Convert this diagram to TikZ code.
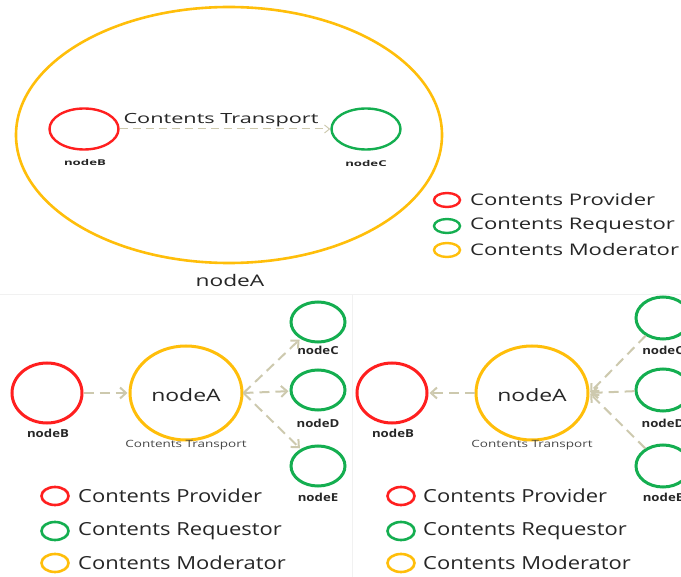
\documentclass[tikz,border=0pt]{standalone}
\usepackage{fontspec}
\setmainfont{Open Sans}
% widened faces for the labels
\newfontfamily\legendface[FakeStretch=1.22]{Open Sans}
\newfontfamily\topface[FakeStretch=1.42]{Open Sans}
\newfontfamily\toplegface[FakeStretch=1.38]{Open Sans}
\newfontfamily\toptransface[FakeStretch=1.55]{Open Sans}
\newfontfamily\midface[FakeStretch=1.35]{Open Sans}
\newfontfamily\labelface[FakeStretch=1.2]{Open Sans Bold}
\newfontfamily\tinyface[FakeStretch=1.65]{Open Sans Bold}
\usetikzlibrary{shapes.geometric,arrows.meta}

\definecolor{provred}{HTML}{FF1F1F}
\definecolor{reqgreen}{HTML}{14AE50}
\definecolor{modyellow}{HTML}{FFBE0A}
\definecolor{flowtan}{HTML}{CDC9AE}
\definecolor{inkgray}{HTML}{262626}
\definecolor{panelline}{HTML}{F1F1F1}

\tikzset{
  ring/.style={ellipse, draw, inner sep=0pt},
  provider/.style={ring, draw=provred, line width=3pt},
  requestor/.style={ring, draw=reqgreen, line width=3pt},
  moderator/.style={ring, draw=modyellow, line width=3pt},
  smallname/.style={font=\labelface\fontsize{11}{11}\selectfont, text=inkgray},
  tinyname/.style={font=\tinyface\fontsize{8}{8}\selectfont, text=inkgray},
  flow/.style={draw=flowtan, line width=2pt, dash pattern=on 10pt off 6pt,
    -{Straight Barb[length=6pt,width=11pt,line width=2pt]}, shorten >=1pt},
  thinflow/.style={draw=flowtan, line width=1pt, dash pattern=on 8pt off 5pt,
    -{Straight Barb[length=5pt,width=8pt,line width=1pt]}},
  legring/.style={ring, line width=2.6pt, minimum width=27pt, minimum height=18pt},
  topring/.style={ring, line width=2.4pt, minimum width=26pt, minimum height=14pt},
  legtext/.style={anchor=west, inner sep=0pt, text=inkgray, font=\legendface\fontsize{18}{18}\selectfont},
  toplegtext/.style={anchor=west, inner sep=0pt, text=inkgray, font=\toplegface\fontsize{16}{16}\selectfont},
  transtext/.style={font=\midface\fontsize{10}{10}\selectfont, text=inkgray!85},
  centretext/.style={font=\midface\fontsize{17}{17}\selectfont, text=inkgray},
}

\begin{document}
\begin{tikzpicture}[x=1pt,y=-1pt]
\useasboundingbox (0,0) rectangle (681,577);

% faint panel borders
\draw[panelline, line width=1pt] (0,295) -- (681,295);
\draw[panelline, line width=1pt] (352,295) -- (352,577);

% ---------------- upper panel: moderator enclosing the transport ----------------
\node[moderator, line width=2.6pt, minimum width=426pt, minimum height=256pt] (tA) at (229,135) {};
\node[provider, line width=2.4pt, minimum width=69pt, minimum height=41pt] (tB) at (84,129) {};
\node[requestor, line width=2.4pt, minimum width=69pt, minimum height=41pt] (tC) at (366,129) {};
\node[tinyname] (tBl) at (85,163) {nodeB};
\node[tinyname] (tCl) at (366,164) {nodeC};
\draw[thinflow] (tB) -- (tC);
\node[font=\toptransface\fontsize{14}{14}\selectfont, text=inkgray] (tT) at (221,120) {Contents Transport};
\node[font=\topface\fontsize{16}{16}\selectfont, text=inkgray] (tAl) at (230,281) {nodeA};

% upper legend
\node[topring, draw=provred] (tk1) at (447,200) {};
\node[topring, draw=reqgreen] (tk2) at (447,226) {};
\node[topring, draw=modyellow] (tk3) at (447,250) {};
\node[toplegtext] (tt1) at (470,200) {Contents Provider};
\node[toplegtext] (tt2) at (470,226) {Contents Requestor};
\node[toplegtext] (tt3) at (470,250) {Contents Moderator};

% ---------------- lower left panel: moderator fans out ----------------
\node[provider, minimum width=70pt, minimum height=60pt] (lB) at (47,393) {};
\node[moderator, minimum width=112pt, minimum height=94pt] (lA) at (186,393) {};
\node[centretext] (lAl) at (186,395) {nodeA};
\node[requestor, minimum width=54pt, minimum height=40pt] (lC) at (318,322) {};
\node[requestor, minimum width=54pt, minimum height=40pt] (lD) at (318,390) {};
\node[requestor, minimum width=54pt, minimum height=40pt] (lE) at (318,466) {};
\node[smallname] (lBl) at (48,433) {nodeB};
\node[smallname] (lCl) at (318,350) {nodeC};
\node[smallname] (lDl) at (318,423) {nodeD};
\node[smallname] (lEl) at (318,497) {nodeE};
\node[transtext] (lT) at (186,445) {Contents Transport};
\draw[flow] (lB) -- (lA);
\draw[flow] (lA.east) -- (lC);
\draw[flow] (lA.east) -- (lD);
\draw[flow] (lA.east) -- (lE);

% lower left legend
\node[legring, draw=provred] (lk1) at (55,496) {};
\node[legring, draw=reqgreen] (lk2) at (55,531) {};
\node[legring, draw=modyellow] (lk3) at (55,563) {};
\node[legtext] (lt1) at (78,496) {Contents Provider};
\node[legtext] (lt2) at (78,531) {Contents Requestor};
\node[legtext] (lt3) at (78,563) {Contents Moderator};

% ---------------- lower right panel: moderator gathers in ----------------
\node[provider, minimum width=70pt, minimum height=60pt] (rB) at (392,393) {};
\node[moderator, minimum width=112pt, minimum height=94pt] (rA) at (532,393) {};
\node[centretext] (rAl) at (532,395) {nodeA};
\node[requestor, minimum width=54pt, minimum height=42pt] (rC) at (663,318) {};
\node[requestor, minimum width=54pt, minimum height=42pt] (rD) at (663,390) {};
\node[requestor, minimum width=54pt, minimum height=42pt] (rE) at (663,466) {};
\node[smallname] (rBl) at (393,433) {nodeB};
\node[smallname] (rCl) at (663,350) {nodeC};
\node[smallname] (rDl) at (663,423) {nodeD};
\node[smallname] (rEl) at (663,497) {nodeE};
\node[transtext] (rT) at (532,445) {Contents Transport};
\draw[flow] (rA) -- (rB);
\draw[flow] (rC) -- (rA.east);
\draw[flow] (rD) -- (rA.east);
\draw[flow] (rE) -- (rA.east);

% lower right legend
\node[legring, draw=provred] (rk1) at (401,496) {};
\node[legring, draw=reqgreen] (rk2) at (401,531) {};
\node[legring, draw=modyellow] (rk3) at (401,563) {};
\node[legtext] (rt1) at (423,496) {Contents Provider};
\node[legtext] (rt2) at (423,531) {Contents Requestor};
\node[legtext] (rt3) at (423,563) {Contents Moderator};
\end{tikzpicture}
\end{document}
